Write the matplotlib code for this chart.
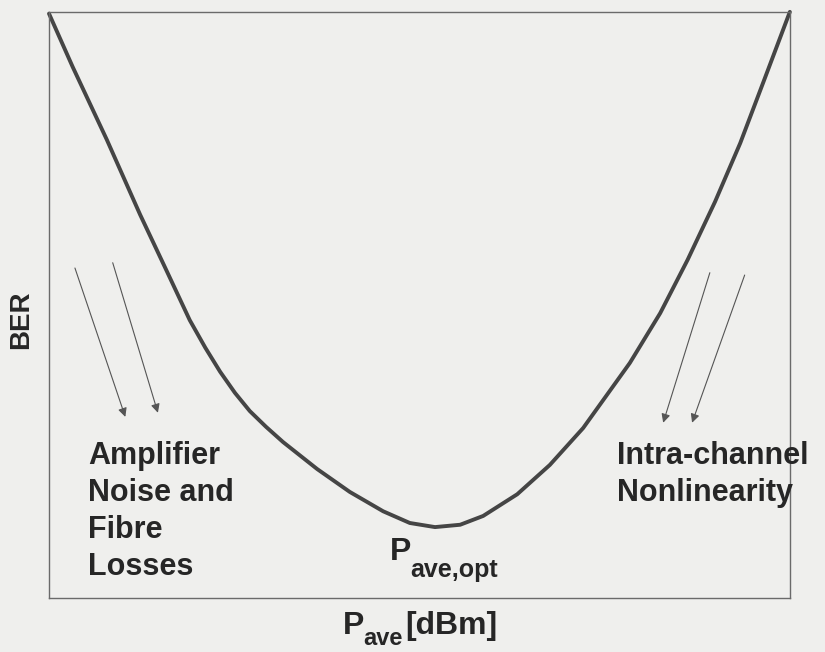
import matplotlib
matplotlib.use("Agg")
from matplotlib import pyplot as plt

# BER vs average launch power (sketch, arbitrary units 0-10)
power = [0.00, 0.32, 0.78, 1.23, 1.57, 1.90, 2.11, 2.31, 2.51, 2.71, 2.93, 3.16,
         3.62, 4.06, 4.51, 4.87, 5.21, 5.55, 5.86, 6.32, 6.76, 7.21, 7.84, 8.25,
         8.62, 8.99, 9.33, 9.66, 10.00]
ber = [9.97, 9.06, 7.82, 6.54, 5.63, 4.74, 4.27, 3.86, 3.50, 3.19, 2.92, 2.66,
       2.20, 1.81, 1.48, 1.28, 1.21, 1.25, 1.40, 1.77, 2.27, 2.90, 4.01, 4.86,
       5.77, 6.76, 7.76, 8.86, 10.00]

# arrows: (x_start, y_start, x_end, y_end)
left_arrows = [(0.35, 5.63, 1.03, 3.09), (0.86, 5.72, 1.47, 3.16)]
right_arrows = [(8.92, 5.55, 8.29, 2.99), (9.39, 5.51, 8.68, 2.99)]

plt.rcParams['font.family'] = ['Liberation Sans', 'DejaVu Sans']

bg = '#efefed'
txt = '#262626'
W, H = 825, 652

fig = plt.figure(figsize=(8.25, 6.52), dpi=100, facecolor=bg)
ax = fig.add_axes([0.0594, 0.0828, 0.898, 0.899])
ax.set_facecolor(bg)

ax.plot(power, ber, color='#454545', linewidth=2.8, clip_on=False,
        solid_capstyle='round', solid_joinstyle='round')

for x0, y0, x1, y1 in left_arrows + right_arrows:
    ax.annotate('', xy=(x1, y1), xytext=(x0, y0),
                arrowprops=dict(arrowstyle='-|>', color='#555555', lw=0.8,
                                mutation_scale=13, shrinkA=0, shrinkB=0))

ax.text(0.53, 2.68, 'Amplifier\nNoise and\nFibre\nLosses', ha='left', va='top',
        fontsize=22, fontweight='bold', color=txt, linespacing=1.3)
ax.text(7.67, 2.68, 'Intra-channel\nNonlinearity', ha='left', va='top',
        fontsize=22, fontweight='bold', color=txt, linespacing=1.3, clip_on=False)

# P_ave,opt label at the minimum
ax.text(4.60, 0.65, 'P', ha='left', va='baseline', fontsize=23, fontweight='bold', color=txt)
ax.text(4.87, 0.36, 'ave,opt', ha='left', va='baseline', fontsize=18, fontweight='bold', color=txt)

ax.set_xlim(0, 10)
ax.set_ylim(0, 10)
ax.set_xticks([])
ax.set_yticks([])
for s in ax.spines.values():
    s.set_color('#6a6a6a')
    s.set_linewidth(1.0)

fig.text(21 / W, 1 - 320 / H, 'BER', rotation=90, ha='center', va='center',
         fontsize=20, fontweight='bold', color=txt)

# x label: P_ave[dBm]
fig.text(343 / W, 1 - 634 / H, 'P', ha='left', va='baseline', fontsize=23, fontweight='bold', color=txt)
fig.text(363 / W, 1 - 645 / H, 'ave', ha='left', va='baseline', fontsize=17, fontweight='bold', color=txt)
fig.text(405 / W, 1 - 634 / H, '[dBm]', ha='left', va='baseline', fontsize=23, fontweight='bold', color=txt)

fig.savefig('out.png', dpi=100, facecolor=bg)
